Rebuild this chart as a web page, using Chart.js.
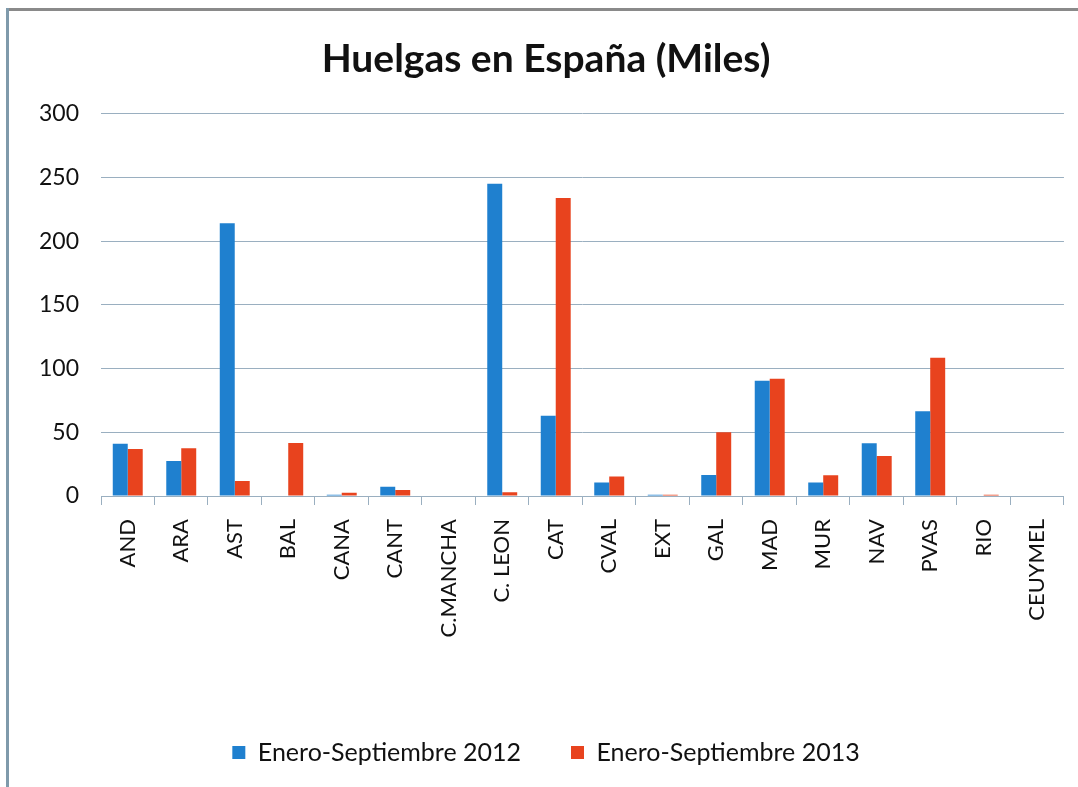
<!DOCTYPE html>
<html>
<head>
<meta charset="utf-8">
<script src="https://cdn.jsdelivr.net/npm/chart.js@4"></script>
<style>
  html, body { margin: 0; padding: 0; background: #fff; }
  #wrap { position: relative; width: 1078px; height: 787px; overflow: hidden; }
  #frameTop { position: absolute; left: 6px; top: 8px; width: 1072px; height: 3px; background: #8a8a8a; }
  #frameLeft { position: absolute; left: 6px; top: 8px; width: 3px; height: 779px; background: #7f9aab; }
  canvas { position: absolute; left: 0; top: 0; }
</style>
</head>
<body>
<div id="wrap">
  <canvas id="c" width="1078" height="787"></canvas>
  <div id="frameTop"></div>
  <div id="frameLeft"></div>
</div>
<script>
const categories = ["AND","ARA","AST","BAL","CANA","CANT","C.MANCHA","C. LEON","CAT","CVAL","EXT","GAL","MAD","MUR","NAV","PVAS","RIO","CEUYMEL"];
const series2012 = [41, 27.5, 214, 0, 1, 7.3, 0, 245, 63, 10.5, 1, 16.5, 90.5, 10.5, 41.5, 66.5, 0.3, 0];
const series2013 = [36.8, 37.5, 11.8, 41.6, 2.5, 4.7, 0, 2.9, 234, 15.4, 1, 50, 92, 16.2, 31.4, 108.5, 1, 0];
const yTicks = [0, 50, 100, 150, 200, 250, 300];
const seriesNames = ["Enero-Septiembre 2012", "Enero-Septiembre 2013"];

const FONT = "Lato, 'Open Sans', 'DejaVu Sans', sans-serif";
const gridColor = "#9aafc0";

new Chart(document.getElementById("c"), {
  type: "bar",
  data: {
    labels: categories,
    datasets: [
      { label: seriesNames[0], data: series2012, backgroundColor: "#1f80cf", borderWidth: 0,
        categoryPercentage: 0.56, barPercentage: 1.0 },
      { label: seriesNames[1], data: series2013, backgroundColor: "#e8431e", borderWidth: 0,
        categoryPercentage: 0.56, barPercentage: 1.0 }
    ]
  },
  options: {
    responsive: false,
    animation: false,
    devicePixelRatio: 1,
    layout: { padding: { left: 28, right: 14, top: 36, bottom: 12 } },
    plugins: {
      title: {
        display: true,
        text: "Huelgas en España (Miles)",
        color: "#111",
        font: { family: FONT, size: 39, weight: "bold" },
        padding: { top: 0, bottom: 31 }
      },
      legend: {
        display: true,
        position: "bottom",
        labels: {
          color: "#111",
          font: { family: FONT, size: 25 },
          boxWidth: 13, boxHeight: 13,
          padding: 50
        }
      },
      tooltip: { enabled: false }
    },
    scales: {
      x: {
        offset: true,
        grid: { display: true, drawOnChartArea: false, drawTicks: true, tickLength: 9, color: gridColor, offset: true },
        border: { display: true, color: gridColor, width: 1 },
        ticks: { color: "#111", font: { family: FONT, size: 22 }, minRotation: 90, maxRotation: 90, padding: 14, autoSkip: false },
        afterFit: (s) => { s.height = 194; }
      },
      y: {
        min: 0, max: 300,
        afterBuildTicks: (s) => { s.ticks = yTicks.map(v => ({ value: v })); },
        grid: { color: gridColor, drawTicks: false, lineWidth: 1 },
        border: { display: false },
        ticks: { color: "#111", font: { family: FONT, size: 23 }, padding: 22 },
        afterFit: (s) => { s.width = 73; }
      }
    }
  }
});
</script>
</body>
</html>
